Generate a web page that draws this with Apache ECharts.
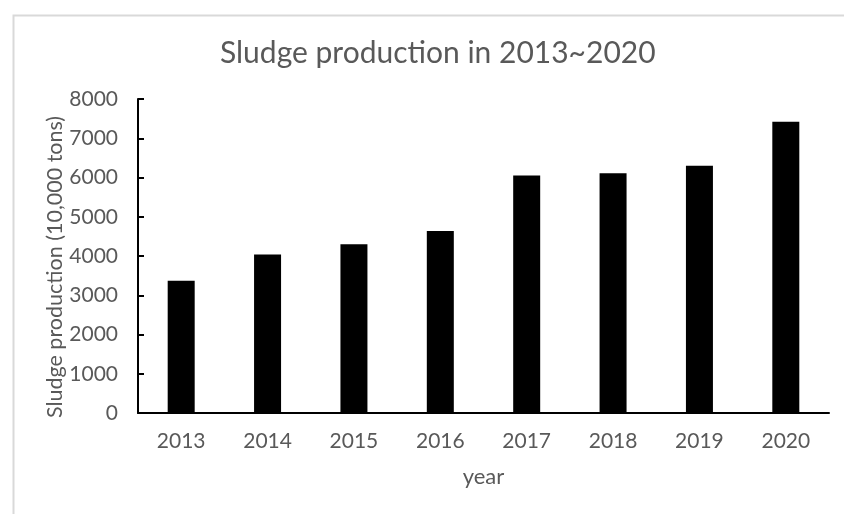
<!DOCTYPE html>
<html>
<head>
<meta charset="utf-8">
<script src="https://cdn.jsdelivr.net/npm/echarts@6/dist/echarts.min.js"></script>
<style>
html,body{margin:0;padding:0;background:#fff;}
#chart{width:844px;height:514px;}
</style>
</head>
<body>
<div id="chart"></div>
<script>
const titleText = 'Sludge production in 2013~2020';
const categories = ['2013', '2014', '2015', '2016', '2017', '2018', '2019', '2020'];
const production = [3370, 4040, 4300, 4640, 6050, 6110, 6300, 7420];
const yAxisName = 'Sludge production (10,000 tons)';
const xAxisName = 'year';

const FONT = 'Lato';
const chart = echarts.init(document.getElementById('chart'), null, {renderer: 'canvas'});
chart.setOption({
  backgroundColor: '#ffffff',
  animation: false,
  graphic: [{
    type: 'rect',
    left: 11, top: 13,
    shape: {width: 900, height: 600},
    style: {fill: 'none', stroke: '#d9d9d9', lineWidth: 2},
    silent: true
  }],
  title: {
    text: titleText,
    left: 215,
    top: 33,
    textStyle: {fontFamily: FONT, fontSize: 30, fontWeight: 'normal', color: '#595959'}
  },
  grid: {left: 138, right: 15, top: 99, bottom: 101, containLabel: false},
  xAxis: {
    type: 'category',
    data: categories,
    name: xAxisName,
    nameLocation: 'middle',
    nameGap: 53,
    nameMoveOverlap: false,
    nameTextStyle: {fontFamily: FONT, fontSize: 22, color: '#595959'},
    axisLine: {show: true, lineStyle: {color: '#000', width: 2}},
    axisTick: {show: false},
    axisLabel: {fontFamily: FONT, fontSize: 21, color: '#595959', margin: 18},
    splitLine: {show: false}
  },
  yAxis: {
    type: 'value',
    min: 0, max: 8000, interval: 1000,
    name: yAxisName,
    nameLocation: 'middle',
    nameGap: 72,
    nameMoveOverlap: false,
    nameTextStyle: {fontFamily: FONT, fontSize: 21.5, color: '#595959', padding: [0, 22, 0, 0]},
    axisLine: {show: true, lineStyle: {color: '#000', width: 2}},
    axisTick: {show: true, inside: true, length: 6, lineStyle: {color: '#000', width: 2}},
    axisLabel: {fontFamily: FONT, fontSize: 21, color: '#595959', margin: 20,
      formatter: function (v) { return String(v); }},
    splitLine: {show: false}
  },
  series: [{
    type: 'bar',
    data: production,
    barWidth: 27,
    itemStyle: {color: '#000000'}
  }]
});
</script>
</body>
</html>
